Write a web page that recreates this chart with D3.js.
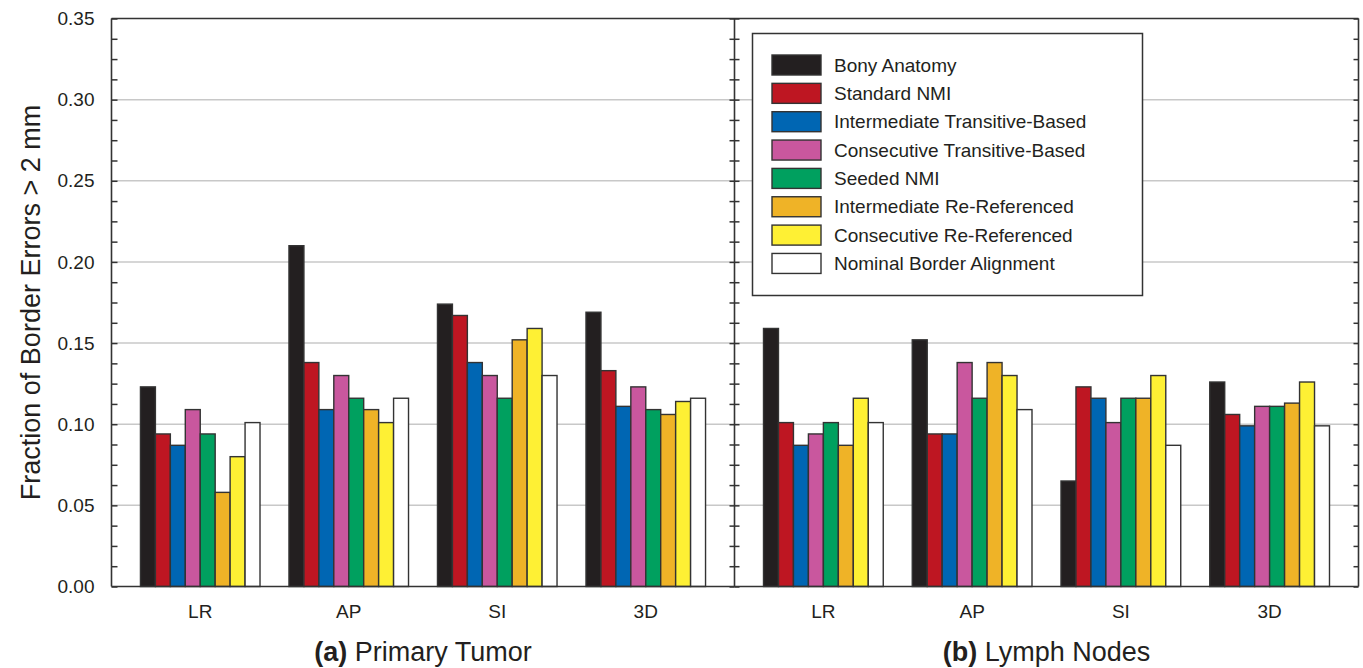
<!DOCTYPE html>
<html>
<head>
<meta charset="utf-8">
<script src="https://cdn.jsdelivr.net/npm/d3@7"></script>
<style>
  html, body { margin: 0; padding: 0; background: #fff; }
  svg { display: block; font-family: "Liberation Sans", Arial, Helvetica, sans-serif; }
</style>
</head>
<body>
<svg id="chart" width="1363" height="668"></svg>
<script>
// ---------------- data ----------------
const categories = ["LR", "AP", "SI", "3D"];
const methods = [
  "Bony Anatomy",
  "Standard NMI",
  "Intermediate Transitive-Based",
  "Consecutive Transitive-Based",
  "Seeded NMI",
  "Intermediate Re-Referenced",
  "Consecutive Re-Referenced",
  "Nominal Border Alignment"
];
const methodColors = ["#231f20", "#be1622", "#0066b3", "#c9579e", "#00a05f", "#efb327", "#fef034", "#ffffff"];

// values per category (rows) and method (columns)
const primaryTumorValues = [
  [0.123, 0.094, 0.087, 0.109, 0.094, 0.058, 0.080, 0.101], // LR
  [0.210, 0.138, 0.109, 0.130, 0.116, 0.109, 0.101, 0.116], // AP
  [0.174, 0.167, 0.138, 0.130, 0.116, 0.152, 0.159, 0.130], // SI
  [0.169, 0.133, 0.111, 0.123, 0.109, 0.106, 0.114, 0.116]  // 3D
];
const lymphNodeValues = [
  [0.159, 0.101, 0.087, 0.094, 0.101, 0.087, 0.116, 0.101], // LR
  [0.152, 0.094, 0.094, 0.138, 0.116, 0.138, 0.130, 0.109], // AP
  [0.065, 0.123, 0.116, 0.101, 0.116, 0.116, 0.130, 0.087], // SI
  [0.126, 0.106, 0.099, 0.111, 0.111, 0.113, 0.126, 0.099]  // 3D
];
const panelTitles = [["(a)", " Primary Tumor"], ["(b)", " Lymph Nodes"]];
const yTickLabels = [0, 0.05, 0.10, 0.15, 0.20, 0.25, 0.30, 0.35];
const yAxisTitle = "Fraction of Border Errors > 2 mm";

// ---------------- layout ----------------
const svg = d3.select("#chart");
const plotLeft = 111.5, plotRight = 1358.5, plotTop = 18.5, plotBottom = 586.5, plotMid = 734.5;
const frameColor = "#333";
const fontFamily = '"Liberation Sans", Arial, Helvetica, sans-serif';

const y = d3.scaleLinear().domain([0, 0.35]).range([plotBottom, plotTop]);
const minorTicks = d3.range(0, 0.35 + 1e-9, 0.0125);

// gridlines
svg.append("g")
  .selectAll("line")
  .data(yTickLabels.filter(v => v > 0 && v < 0.35))
  .join("line")
  .attr("x1", plotLeft).attr("x2", plotRight)
  .attr("y1", d => y(d)).attr("y2", d => y(d))
  .attr("stroke", "#c8c8c8").attr("stroke-width", 1.5);

const panels = [
  { values: primaryTumorValues, x0r: [plotLeft, plotMid], title: panelTitles[0] },
  { values: lymphNodeValues, x0r: [plotMid, plotRight], title: panelTitles[1] }
];

panels.forEach(p => {
  const x0 = d3.scaleBand().domain(categories).range(p.x0r).padding(0.195);
  const x1 = d3.scaleBand().domain(methods).range([0, x0.bandwidth()]);
  const g = svg.append("g");
  categories.forEach((c, ci) => {
    g.append("g")
      .attr("transform", `translate(${x0(c)},0)`)
      .selectAll("rect")
      .data(methods.map((m, mi) => ({ m, mi, v: p.values[ci][mi] })))
      .join("rect")
      .attr("x", d => x1(d.m))
      .attr("width", x1.bandwidth())
      .attr("y", d => y(d.v))
      .attr("height", d => y(0) - y(d.v))
      .attr("fill", d => methodColors[d.mi])
      .attr("stroke", frameColor)
      .attr("stroke-width", 1.4);
  });
  // category labels
  const ax = svg.append("g")
    .attr("transform", `translate(0,${plotBottom})`)
    .call(d3.axisBottom(x0).tickSize(0).tickPadding(18));
  ax.select(".domain").remove();
  ax.selectAll("text").attr("font-size", 19).attr("font-family", fontFamily).attr("fill", "#231f20");
  // panel title
  const t = svg.append("text")
    .attr("x", (p.x0r[0] + p.x0r[1]) / 2)
    .attr("y", 661)
    .attr("text-anchor", "middle")
    .attr("font-size", 27)
    .attr("fill", "#231f20");
  t.append("tspan").attr("font-weight", "bold").text(p.title[0]);
  t.append("tspan").text(p.title[1]);
});

// legend
const legend = svg.append("g");
legend.append("rect")
  .attr("x", 752.5).attr("y", 33.5).attr("width", 390).attr("height", 262)
  .attr("fill", "#fff").attr("stroke", frameColor).attr("stroke-width", 1.5);
const legendRows = legend.selectAll("g.row")
  .data(methods)
  .join("g")
  .attr("class", "row")
  .attr("transform", (d, i) => `translate(0,${65 + i * 28.35})`);
legendRows.append("rect")
  .attr("x", 772).attr("y", -10).attr("width", 49).attr("height", 20)
  .attr("fill", (d, i) => methodColors[i])
  .attr("stroke", frameColor).attr("stroke-width", 1.4);
legendRows.append("text")
  .attr("x", 834).attr("y", 0).attr("dy", "0.35em")
  .attr("font-size", 19).attr("fill", "#231f20")
  .text(d => d);

// axes / frame
const leftLabels = svg.append("g")
  .attr("transform", `translate(${plotLeft},0)`)
  .call(d3.axisLeft(y).tickValues(yTickLabels).tickSize(0).tickPadding(17).tickFormat(d3.format(".2f")));
leftLabels.select(".domain").remove();
leftLabels.selectAll("text").attr("font-size", 19).attr("font-family", fontFamily).attr("fill", "#231f20");

function tickAxis(axisFn, xpos, size) {
  const a = svg.append("g")
    .attr("transform", `translate(${xpos},0)`)
    .call(axisFn(y).tickValues(minorTicks).tickSize(size).tickFormat(""));
  a.select(".domain").remove();
  a.selectAll("line").attr("stroke", frameColor).attr("stroke-width", 1.5);
}
tickAxis(d3.axisRight, plotLeft, 6);
tickAxis(d3.axisRight, plotMid, 5);
tickAxis(d3.axisLeft, plotMid, 5);
tickAxis(d3.axisLeft, plotRight, 5);

// frame lines
const frame = svg.append("g").attr("stroke", frameColor).attr("stroke-width", 1.6).attr("fill", "none");
frame.append("line").attr("x1", plotLeft).attr("x2", plotRight).attr("y1", plotTop).attr("y2", plotTop);
frame.append("line").attr("x1", plotLeft).attr("x2", plotRight).attr("y1", plotBottom).attr("y2", plotBottom);
frame.append("line").attr("x1", plotLeft).attr("x2", plotLeft).attr("y1", plotTop).attr("y2", plotBottom);
frame.append("line").attr("x1", plotMid).attr("x2", plotMid).attr("y1", plotTop).attr("y2", plotBottom);
frame.append("line").attr("x1", plotRight).attr("x2", plotRight).attr("y1", plotTop).attr("y2", plotBottom);

// y-axis title
svg.append("text")
  .attr("transform", `translate(40,${(plotTop + plotBottom) / 2}) rotate(-90)`)
  .attr("text-anchor", "middle")
  .attr("font-size", 27)
  .attr("fill", "#231f20")
  .text(yAxisTitle);
</script>
</body>
</html>
